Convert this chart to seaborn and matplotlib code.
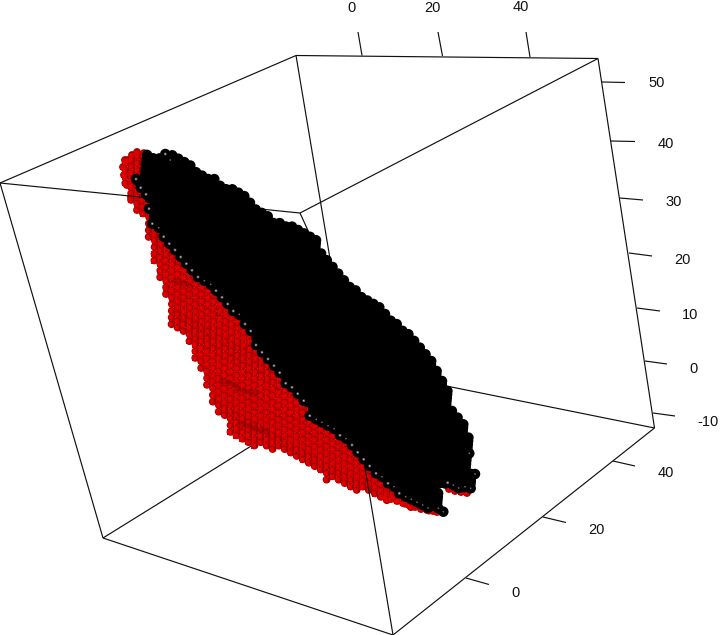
import numpy as np
import pandas as pd
import matplotlib
matplotlib.use('Agg')
import matplotlib.pyplot as plt
import seaborn as sns

# tick labels of the three axes
x_ticks = ['0', '20', '40']
y_ticks = ['0', '20', '40']
z_ticks = ['50', '40', '30', '20', '10', '0', '-10']

# outline of the black surface
black_outline = [(145, 147), (153, 152), (162, 150), (166, 147), (177, 152), (192, 160), (207, 172), (212, 170),
                 (227, 182), (247, 190), (263, 207), (277, 217), (295, 222), (317, 232), (324, 242), (322, 247),
                 (340, 267), (362, 290), (385, 305), (400, 320), (412, 330), (433, 353), (443, 372), (452, 387),
                 (457, 410), (470, 423), (477, 447), (472, 457), (477, 473), (475, 490), (457, 493), (442, 488),
                 (448, 503), (443, 515), (427, 512), (400, 497), (388, 487), (370, 470), (357, 457), (347, 445),
                 (335, 435), (310, 420), (305, 409), (297, 399), (280, 379), (257, 352), (250, 337), (233, 315),
                 (217, 295), (198, 282), (180, 262), (163, 242), (152, 229), (145, 214), (145, 200), (133, 182),
                 (142, 150)]

# outline of the red surface underneath
red_outline = [(142, 148), (125, 154), (118, 168), (121, 182), (127, 195), (131, 210), (139, 214), (144, 229),
               (151, 262), (163, 299), (171, 333), (186, 340), (188, 349), (198, 372), (205, 389), (215, 415),
               (223, 421), (229, 439), (253, 448), (280, 455), (300, 465), (321, 475), (323, 481), (347, 491),
               (380, 501), (420, 513), (442, 516), (437, 495), (445, 489), (470, 496), (475, 480), (420, 400),
               (260, 330), (150, 150)]

# red spheres along the thin rims that the grid misses
red_rim = [(385, 497), (391, 499), (397, 501), (403, 503), (409, 505), (415, 507), (421, 509), (427, 510), (433, 511),
           (437, 512), (125, 160), (123, 167), (124, 175), (128, 160), (132, 155), (137, 152), (127, 185), (131, 197),
           (449, 489), (455, 491), (461, 492), (467, 493)]

# darker creases on the red surface
red_creases = [(177, 281), (183, 283), (189, 285), (223, 381), (229, 383), (235, 385), (238, 389), (244, 391),
               (250, 392), (256, 393), (243, 424), (249, 426), (255, 428), (261, 430), (267, 431)]

# spheres on the lower edge that still show a clear highlight
edge_bright = [(165.3, 154), (136, 179), (140.7, 187.7), (146, 194.3), (149, 208.7), (152.3, 223.7), (163.7, 236.7),
               (169.3, 243.7), (175, 250), (180.7, 257), (186.3, 263.7), (192, 270.3), (198, 277), (216, 290.7),
               (222, 297.3), (227.7, 304), (233.3, 311), (245, 324), (250.7, 331), (256, 345), (262, 352.3), (268, 359),
               (274, 365.7), (279.7, 372.7), (285.7, 383.3), (292, 387.3), (297.7, 393.7), (303.7, 400.7),
               (309.7, 415.7), (340, 435.3), (352, 445), (357.7, 452.3), (363.7, 459.3), (369.7, 466), (376, 473.3),
               (388, 483.3), (399.3, 493.3), (447.7, 482.7)]

# spheres on the same edge with only a faint glint
edge_faint = [(170.3, 160), (158.7, 227.7), (204.3, 280.7), (210.7, 284.3), (239.3, 314.3), (316.3, 419.3), (322, 422.3),
              (328, 425.7), (334, 428.7), (346, 438.7), (382, 476.7), (394, 486.7), (405.7, 496.7), (411.3, 499.3),
              (417, 502.3), (422.7, 505), (428, 508), (438.3, 508.3), (443.3, 511.7), (453.3, 485), (458.7, 488),
              (465, 486.7), (470.7, 488.3), (475, 474), (469.3, 453.3)]


def lattice_inside(outline, inset, step_a=(6.0, 3.4), step_b=(-0.3, 3.3), origin=(256.0, 345.0)):
    # sphere grid of the surface, kept only where it lies inside the outline
    poly = np.array(outline, dtype=float)
    i, j = np.meshgrid(np.arange(-80, 80), np.arange(-140, 140))
    px = origin[0] + i.ravel() * step_a[0] + j.ravel() * step_b[0]
    py = origin[1] + i.ravel() * step_a[1] + j.ravel() * step_b[1]
    pts = np.column_stack([px, py])
    keep = matplotlib.path.Path(poly).contains_points(pts)
    pts = pts[keep]
    a = poly
    b = np.roll(poly, -1, axis=0)
    d = np.full(len(pts), 1e9)
    for p, q in zip(a, b):
        t = np.clip(((pts - p) @ (q - p)) / ((q - p) @ (q - p)), 0, 1)
        near = p + t[:, None] * (q - p)
        d = np.minimum(d, np.hypot(*(pts - near).T))
    pts = pts[d >= inset]
    return pd.DataFrame(pts, columns=['x', 'y']).sort_values(['y', 'x'])


def px_size(d):
    # marker area for a diameter given in pixels
    return (d * 0.72) ** 2


def dots(data, d, color, z, marker='o', alpha=1):
    sns.scatterplot(data=data, x='x', y='y', s=px_size(d), color=color, edgecolor='none', linewidth=0,
                    ax=ax, legend=False, zorder=z, marker=marker, alpha=alpha)


sns.set_theme(style='white')
plt.rcParams['font.family'] = ['Liberation Sans', 'DejaVu Sans']

fig = plt.figure(figsize=(7.2, 6.35), dpi=100)
ax = fig.add_axes([0, 0, 1, 1])
ax.set_xlim(0, 720)
ax.set_ylim(635, 0)
ax.axis('off')

A, B, C, D = (0, 183), (296, 55.5), (598, 58.5), (300, 213)
E, F, G, H = (103, 538), (393, 635), (654.5, 428), (372, 371)


def seg(p, q, z, lw=0.85, color='#111111'):
    ax.plot([p[0], q[0]], [p[1], q[1]], color=color, lw=lw, zorder=z, solid_capstyle='butt')


# edges behind the cloud
for p, q in [(A, B), (B, C), (C, D), (A, E), (E, F), (F, G), (C, G), (G, H), (H, E), (D, H)]:
    seg(p, q, 1)

# axis ticks and labels
x_tick_pos = [((362, 55.5), (358, 32)), ((442.5, 56), (438, 32)), ((530, 57), (526, 32))]
x_label_pos = [(352, 8), (432, 8), (521, 7)]
y_tick_pos = [((466, 578), (489, 584.5)), ((543, 517), (566, 522.5)), ((613, 461), (635, 466))]
y_label_pos = [(516, 593), (596, 530), (666, 473)]
z_tick_pos = [((602, 82), (625, 82.5)), ((611, 141), (635, 141.5)), ((620, 198), (643, 200)), ((629, 253), (652, 256)),
              ((637, 308), (660, 311)), ((645, 361), (667, 364)), ((653, 413), (675, 416))]
z_label_pos = [(657, 83), (666, 144), (674, 202), (682, 260), (690, 315), (694, 369), (708, 422)]
for labels, ticks, spots in [(x_ticks, x_tick_pos, x_label_pos), (y_ticks, y_tick_pos, y_label_pos),
                             (z_ticks, z_tick_pos, z_label_pos)]:
    for lab, (p, q), (lx, ly) in zip(labels, ticks, spots):
        seg(p, q, 1)
        ax.text(lx, ly, lab, ha='center', va='center', fontsize=10.5, color='#111111')

bar = [(-0.42, -0.5), (0.42, -0.5), (0.42, 0.5), (-0.42, 0.5)]
red = lattice_inside(red_outline, 2.5, step_b=(-0.1, 6.7))
red = pd.concat([red, pd.DataFrame(red_rim, columns=['x', 'y'])])
dots(red, 7.8, '#a40000', 2)
dots(red.assign(x=red['x'] - 0.7, y=red['y'] + 0.4), 5.6, '#cc0000', 3, marker=bar)
dots(red.assign(x=red['x'] - 1.0, y=red['y'] + 0.2), 3.0, '#e20000', 3.5, marker=bar)
dots(pd.DataFrame(red_creases, columns=['x', 'y']), 6.5, '#500000', 3.7, alpha=0.25)

# front edges run over the red surface
seg(A, D, 4)
seg(B, F, 4)

black = lattice_inside(black_outline, 4.6)
edge_all = pd.DataFrame(edge_bright + edge_faint, columns=['x', 'y'])
dots(black, 10.5, 'black', 5)
dots(edge_all, 10.5, 'black', 6)
bright = pd.DataFrame(edge_bright, columns=['x', 'y'])
dots(bright, 3.0, '#4a4a4a', 7)
dots(bright, 1.6, '#b8b8b8', 8)
dots(pd.DataFrame(edge_faint, columns=['x', 'y']), 1.7, '#6e6e6e', 7)

fig.savefig('out.png', dpi=100)
